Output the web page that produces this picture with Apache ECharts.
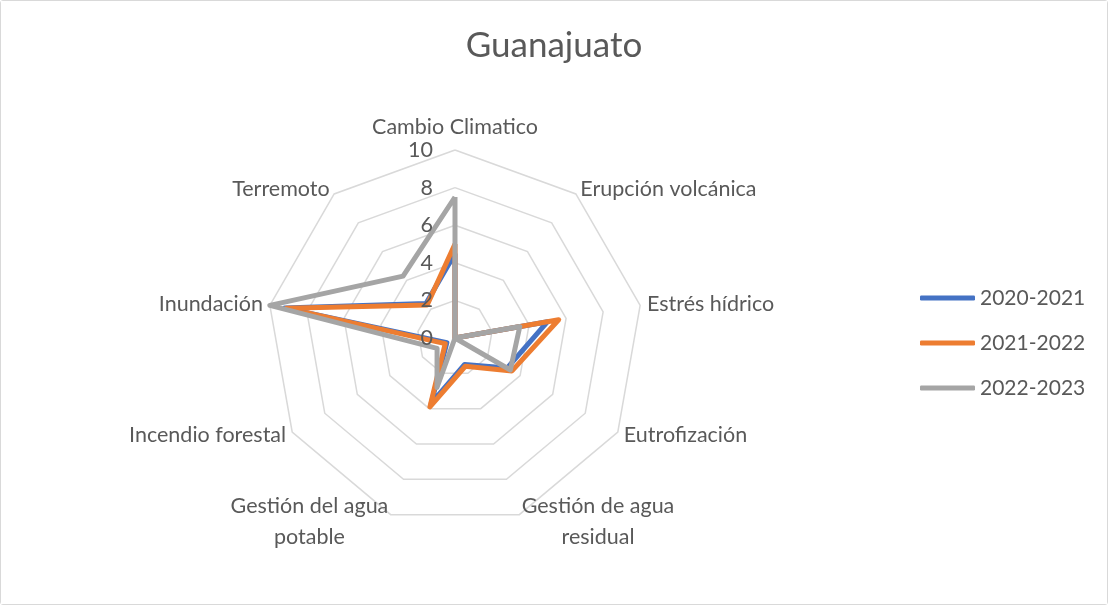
<!DOCTYPE html>
<html>
<head>
<meta charset="utf-8">
<script src="https://cdn.jsdelivr.net/npm/echarts@6/dist/echarts.min.js"></script>
<style>
html,body{margin:0;padding:0;background:#fff;}
#c{width:1108px;height:605px;box-sizing:border-box;border:1px solid #d9d9d9;border-radius:3px;}
</style>
</head>
<body>
<div id="c"></div>
<script>
var titleText = 'Guanajuato';
var categories = ['Cambio Climatico', 'Erupción volcánica', 'Estrés hídrico', 'Eutrofización',
  'Gestión de agua\nresidual', 'Gestión del agua\npotable', 'Incendio forestal', 'Inundación', 'Terremoto'];
var seriesNames = ['2020-2021', '2021-2022', '2022-2023'];
var s2020 = [4.5, 0, 5.0, 3.2, 1.5, 3.7, 0.5, 9.2, 2.4];
var s2021 = [5.0, 0, 5.6, 3.5, 1.6, 3.9, 0.6, 9.1, 2.3];
var s2022 = [7.5, 0, 3.5, 3.4, 0, 2.8, 1.1, 10, 4.3];
var radialTicks = [0, 2, 4, 6, 8, 10];
var colors = ['#4472C4', '#ED7D31', '#A5A5A5'];

var FONT = 'Lato';
var TXT = '#595959';
var FS = 21.5;
var CX = 454, CY = 337, R = 188;

// ECharts lays radar indicators counter-clockwise; reorder so they appear clockwise like Excel
var order = [0].concat(categories.map(function(_, i){return i;}).slice(1).reverse());
function reorder(arr){ return order.map(function(i){ return arr[i]; }); }

var allSeries = [s2020, s2021, s2022];
var chart = echarts.init(document.getElementById('c'), null, {renderer:'canvas'});
chart.setOption({
  animation: false,
  backgroundColor: '#fff',
  title: {
    text: titleText, left: 'center', top: 20,
    textStyle: {fontFamily: FONT, fontSize: 35, fontWeight: 'normal', color: TXT, lineHeight: 40}
  },
  legend: {
    orient: 'vertical', left: 914, top: 280,
    icon: 'roundRect', itemWidth: 55, itemHeight: 5, itemGap: 21,
    textStyle: {fontFamily: FONT, fontSize: 21, color: TXT, lineHeight: 24},
    data: seriesNames
  },
  radar: {
    center: [CX, CY], radius: R, startAngle: 90, splitNumber: 5, shape: 'polygon',
    indicator: reorder(categories).map(function(n){ return {name: n, min: 0, max: 10}; }),
    nameGap: 7,
    axisName: {
      color: TXT, fontFamily: FONT, fontSize: FS,
      formatter: function(name){ return name.split('\n').map(function(l){return '{c|' + l + '}';}).join('\n'); },
      rich: {c: {align: 'center', color: TXT, fontFamily: FONT, fontSize: FS, lineHeight: 31}}
    },
    axisLine: {show: false},
    axisTick: {show: false},
    axisLabel: {show: false},
    splitLine: {lineStyle: {color: '#d9d9d9', width: 1.5}},
    splitArea: {show: false}
  },
  polar: {center: [CX, CY], radius: R},
  angleAxis: {show: false, startAngle: 90, min: 0, max: 360},
  radiusAxis: {
    min: 0, max: 10, interval: 2, z: 20,
    axisLine: {show: false}, axisTick: {show: false}, splitLine: {show: false},
    axisLabel: {color: TXT, fontFamily: FONT, fontSize: FS, margin: 22,
      formatter: function(v){ return radialTicks.indexOf(v) >= 0 ? String(v) : ''; }}
  },
  series: allSeries.map(function(arr, i){
    return {
      type: 'radar', name: seriesNames[i], symbol: 'none', z: 2 + i,
      lineStyle: {color: colors[i], width: 5},
      itemStyle: {color: colors[i]},
      data: [{value: reorder(arr), name: seriesNames[i]}]
    };
  })
});
</script>
</body>
</html>
